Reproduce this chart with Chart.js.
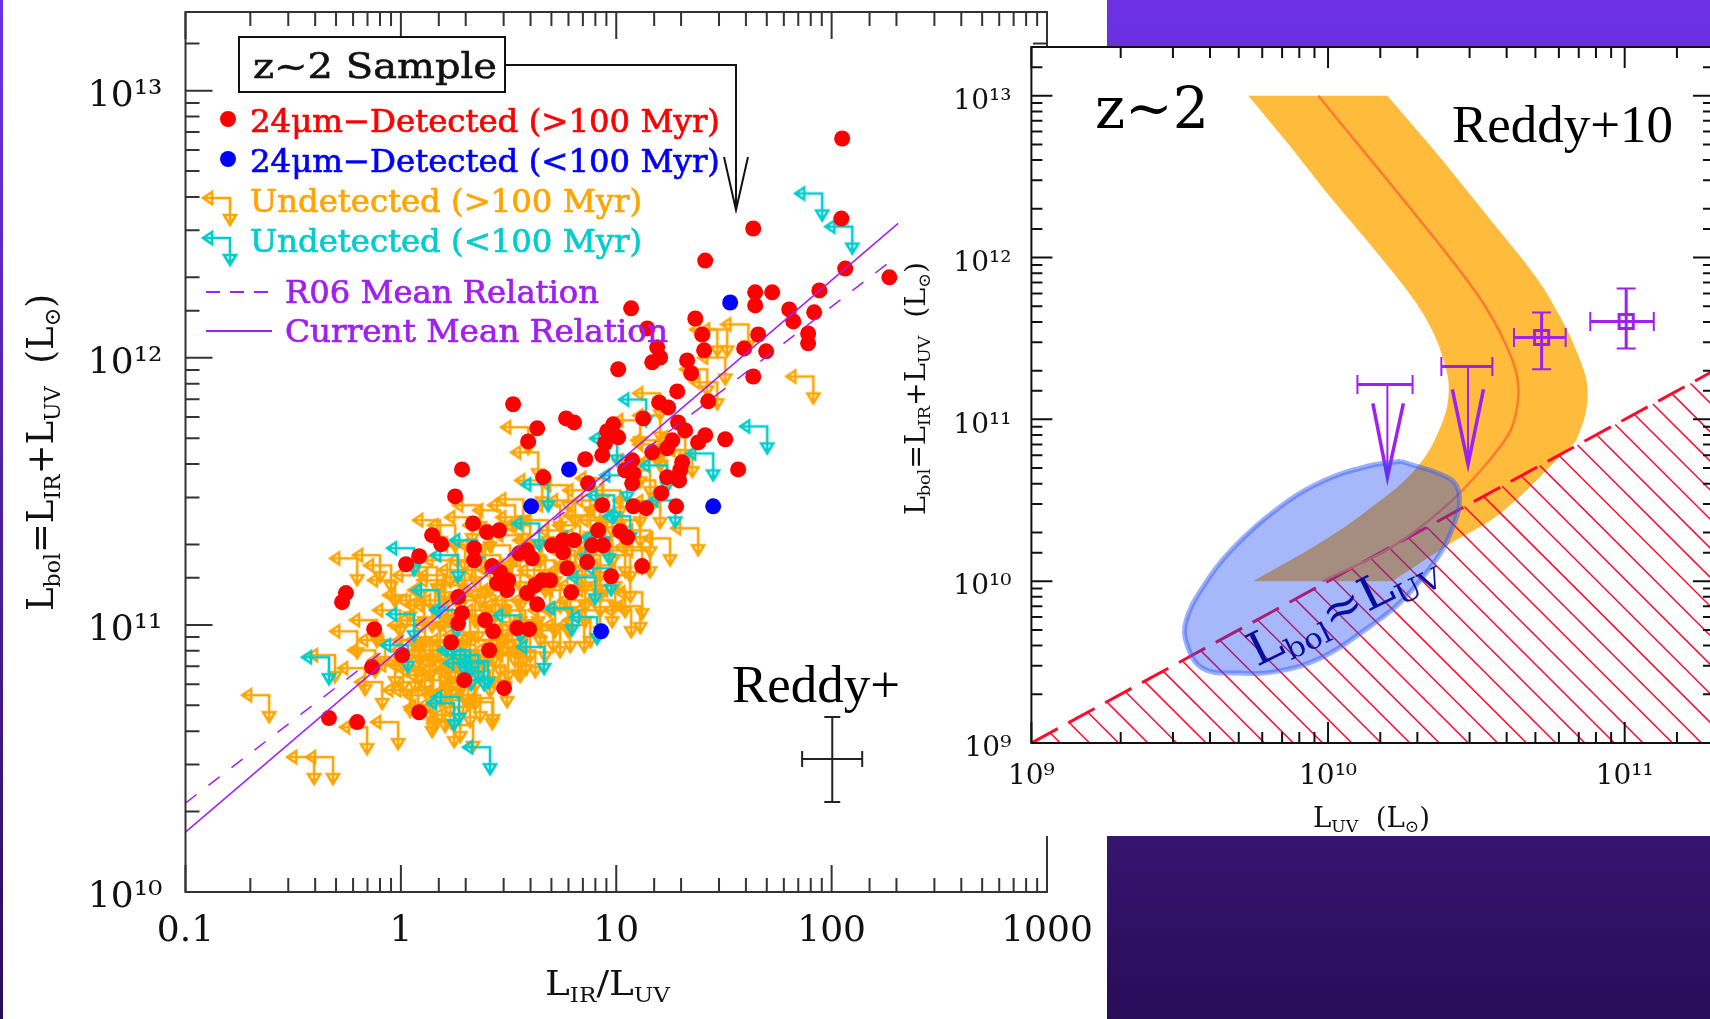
<!DOCTYPE html>
<html>
<head>
<meta charset="utf-8">
<title>z~2 sample</title>
<script src="https://cdn.jsdelivr.net/npm/chart.js@4"></script>
<style>
  html, body { margin: 0; width: 1710px; height: 1019px; overflow: hidden; }
  body { position: relative; background: linear-gradient(#6d31e3 0, #6a30e0 46px, #36156f 836px, #280d5a 1019px); }
  #sheet { position: absolute; left: 3px; top: 0; width: 1104px; height: 1019px; background: #fff; }
  canvas { position: absolute; }
  #leftChart { left: 0; top: 0; }
  #rightChart { left: 900px; top: 46px; background: #fff; }
</style>
</head>
<body>
<div id="sheet"></div>
<canvas id="leftChart" width="1107" height="1019"></canvas>
<canvas id="rightChart" width="830" height="790"></canvas>
<script>
// All values below are log10 of the plotted quantity.

// Left panel: LIR/LUV against Lbol.
const redX = [2.049,2.045,1.636,1.413,2.063,2.268,1.645,1.645,1.724,1.943,1.803,1.919,1.822,1.367,1.399,1.659,1.891,1.891,1.408,1.594,1.696,1.329,1.069,1.144,1.190,1.204,1.167,1.009,1.348,1.636,1.283,1.199,1.241,1.427,1.125,0.804,1.287,1.320,0.986,0.958,1.009,0.948,0.935,1.413,1.380,1.506,1.260,1.236,1.167,0.856,1.306,1.566,1.074,1.041,1.079,1.074,1.236,1.292,1.297,0.869,1.209,0.935,1.079,1.139,1.278,0.916,1.018,1.051,0.804,0.888,0.939,0.521,0.767,0.633,0.591,0.284,0.252,0.661,0.335,0.400,0.456,0.145,0.187,0.340,0.340,0.424,0.461,0.498,0.447,0.493,0.549,0.586,0.609,0.702,0.753,0.753,0.865,0.772,1.120,0.976,0.656,0.693,0.623,0.586,0.791,0.633,0.266,0.284,0.266,0.391,0.428,0.540,0.595,0.233,0.085,0.024,-0.255,-0.273,-0.124,0.410,0.006,-0.134,0.294,0.479,0.085,-0.334,-0.203];
const redY = [12.821,12.521,12.484,12.364,12.334,12.301,12.245,12.196,12.245,12.252,12.181,12.170,12.136,12.147,12.087,12.087,12.091,12.054,12.028,12.035,12.024,11.990,12.185,12.110,12.039,12.001,11.983,11.957,11.942,11.930,11.874,11.833,11.814,11.837,11.773,11.758,11.758,11.728,11.751,11.725,11.702,11.680,11.635,11.710,11.683,11.695,11.691,11.661,11.646,11.620,11.609,11.582,11.616,11.579,11.567,11.530,11.553,11.541,11.579,11.530,11.493,11.448,11.444,11.437,11.444,11.354,11.351,11.328,11.317,11.298,11.298,11.826,11.773,11.736,11.687,11.582,11.481,11.553,11.380,11.347,11.354,11.336,11.302,11.287,11.242,11.220,11.197,11.167,11.156,11.130,11.268,11.279,11.249,11.298,11.317,11.272,11.235,11.212,11.220,11.182,11.167,11.167,11.148,11.119,11.122,11.077,11.104,11.044,11.006,11.018,10.976,10.988,10.984,10.935,11.257,11.227,11.119,11.085,10.984,10.905,10.887,10.842,10.793,10.763,10.673,10.651,10.636];

const blueX = [1.529,1.450,0.781,0.605,0.930];
const blueY = [12.207,11.444,11.582,11.444,10.976];

const cyanX = [1.956,2.096,1.139,1.701,1.450,1.004,1.236,1.274,1.065,1.051,0.684,0.642,0.990,0.266,0.354,0.902,0.795,0.911,0.554,0.261,0.061,0.177,0.061,-0.334,0.414,0.247,0.665,0.033,0.298,0.405,0.386,0.270,0.976,0.967,0.856,0.321,0.359,0.326];
const cyanY = [12.615,12.491,11.844,11.743,11.642,11.698,11.597,11.466,11.407,11.560,11.526,11.380,11.485,11.261,11.317,11.178,11.062,11.029,11.036,11.055,11.287,11.130,11.040,10.879,10.542,10.707,10.917,10.924,10.905,10.864,10.857,10.730,11.212,11.328,11.328,10.905,10.887,10.857];

const orangeX = [1.613,1.515,1.469,1.506,1.422,1.469,1.915,1.204,1.204,1.320,1.353,1.195,1.380,1.204,1.111,1.250,0.368,0.331,0.568,0.568,0.591,0.637,0.656,0.777,1.120,1.120,1.111,1.069,0.851,0.739,0.544,0.581,0.493,0.428,0.345,0.312,0.145,0.247,-0.203,-0.097,-0.046,-0.111,-0.203,-0.306,-0.166,-0.087,-0.013,-0.157,-0.315,-0.403,-0.612,0.335,0.150,0.424,0.108,0.168,0.201,
  0.939,0.879,0.925,0.981,1.041,0.879,0.809,0.739,0.684,0.763,0.832,0.981,1.041,1.111,1.157,0.925,0.995,1.065,0.856,0.786,0.716,0.647,0.600,0.554,0.507,0.461,0.391,0.414,0.461,0.530,0.229,0.298,0.368,0.438,0.507,0.577,0.647,0.716,0.786,0.856,0.925,0.981,1.041,0.693,0.600,0.554,0.484,0.414,0.345,0.275,0.205,0.159,0.112,0.182,0.252,0.321,0.391,0.461,0.530,0.600,0.670,0.879,0.089,0.136,0.205,0.275,0.345,0.414,0.182,0.112,0.043,0.136,0.229,0.321,0.368,0.066,-0.004,0.066,-0.004,-0.073,-0.027,-0.120,0.182,0.043,-0.027,0.089,0.298,0.252,0.182,0.809,0.739,0.670,0.554,0.461,0.624,0.484,0.554,0.252,0.321,0.391,0.182,1.111,1.157,1.236,1.018,1.297,1.111,1.204,1.181,
  0.145,0.219,0.289,0.359,0.428,0.498,0.568,0.637,0.707,0.777,0.150,0.219,0.289,0.359,0.428,0.498,0.219,0.150,0.289,0.080,0.010,0.080,0.206,0.275,0.554,0.484,0.619,0.554,0.414,0.345,0.949,0.879,0.809,0.739,0.670,0.925,0.856,0.786,0.995,1.065,1.157,0.925];
const orangeY = [12.125,12.106,12.106,12.001,11.957,11.908,11.930,11.867,11.676,11.702,11.654,11.691,11.362,11.463,11.466,11.324,11.448,11.403,11.470,11.403,11.740,11.646,11.541,11.523,11.291,11.122,11.070,11.055,10.999,10.980,10.894,10.913,10.793,10.726,10.782,10.782,10.681,10.643,11.249,11.261,11.223,11.018,10.976,10.887,10.838,10.786,10.636,10.617,10.505,10.505,10.737,10.625,10.696,10.711,11.092,11.216,11.167,
  11.549,11.504,11.466,11.429,11.384,11.410,11.466,11.448,11.392,11.354,11.373,11.317,11.279,11.392,11.354,11.261,11.223,11.186,11.223,11.298,11.242,11.317,11.373,11.336,11.298,11.261,11.298,11.373,11.429,11.448,11.242,11.205,11.167,11.111,11.074,11.055,11.018,11.055,10.999,11.092,11.130,11.092,11.130,11.130,11.186,11.148,11.205,11.055,11.092,11.148,11.186,11.130,11.018,10.999,10.943,10.961,10.943,10.905,10.943,10.961,10.961,11.018,10.943,10.887,10.868,10.830,10.849,10.830,10.793,10.830,10.756,10.737,10.756,10.718,10.737,10.849,10.943,10.999,11.055,10.943,10.868,10.905,10.924,11.111,11.167,11.186,11.298,11.373,11.392,11.205,11.148,11.205,10.980,11.018,10.905,10.849,10.887,10.887,11.036,11.130,11.074,11.616,11.579,11.616,11.504,11.654,11.766,11.784,11.541,
  11.074,11.092,10.999,11.036,10.943,10.999,10.943,11.092,10.999,11.055,10.943,10.905,10.887,10.905,10.868,10.887,10.830,10.812,10.756,10.905,10.849,10.756,10.700,10.662,11.092,11.130,11.242,11.223,11.205,11.242,11.392,11.336,11.279,11.298,11.261,11.186,11.148,11.130,11.148,11.261,11.279,11.055];

const currentRelX = [-1, 2.309];
const currentRelY = [10.224, 12.503];
const r06RelX = [-1, 2.309];
const r06RelY = [10.333, 12.383];

// Typical error bar in the corner of the left panel.
const errCrossX = [1.863, 2.142];
const errCrossXAtY = [10.498, 10.498];
const errCrossY = [10.337, 10.655];
const errCrossYAtX = [2.003, 2.003];

const leftTickValues = [0.1, 1, 10, 100, 1000];
const leftTickLabels = ['0.1', '1', '10', '100', '1000'];
const leftLbolValues = [1e10, 1e11, 1e12, 1e13];
const leftLbolLabels = ['10¹⁰', '10¹¹', '10¹²', '10¹³'];

// Right panel: LUV against Lbol.
const bandX = [9.731,9.731,9.860,9.982,10.085,10.178,10.291,10.345,10.382,10.407,10.374,10.291,10.133,9.982,9.748,9.748,10.217,10.217,10.404,10.585,10.796,10.841,10.875,10.841,10.757,10.680,10.585,10.470,10.359,10.2,10.2,9.731];
const bandY = [13,13,12.715,12.432,12.205,12.0,11.735,11.570,11.407,11.179,10.932,10.685,10.438,10.247,10,10,10,10,10.222,10.426,10.796,10.889,11.160,11.407,11.716,11.930,12.148,12.410,12.660,13,13,13];

const meanX = [9.967,10.365,10.524,10.622,10.642,10.615,10.524,10.389,10.209,9.982];
const meanY = [13,12.105,11.716,11.364,11.160,10.932,10.704,10.451,10.204,10];

const ellipseX = [10.246,10.413,10.443,10.426,10.374,10.254,10.133,9.982,9.832,9.697,9.576,9.522,9.522,9.576,9.680,9.832,9.982,10.133,10.246];
const ellipseY = [10.741,10.630,10.519,10.358,10.160,9.889,9.710,9.531,9.444,9.432,9.463,9.623,9.759,9.957,10.204,10.451,10.617,10.710,10.741];

const equalLineX = [9, 11.301];
const equalLineY = [9, 11.301];
const hatchTop = [9.063,9.127,9.190,9.254,9.317,9.381,9.444,9.508,9.571,9.635,9.698,9.762,9.825,9.889,9.952,10.016,10.079,10.143,10.206,10.270,10.333,10.397,10.460,10.524,10.587,10.651,10.714,10.778,10.841,10.905,10.968,11.032,11.095,11.159,11.222,11.286];
const hatchEnd = [9.097,9.196,9.294,9.393,9.490,9.589,9.687,9.786,9.883,9.982,10.080,10.179,10.276,10.375,10.473,10.572,10.669,10.768,10.866,10.965,11.062,11.161,11.259,11.358,11.455,11.554,11.652,11.751,11.848,11.947,12.045,12.144,12.241,12.340,12.437,12.536];

const detectX = [10.720, 11.005];
const detectY = [11.506, 11.605];
const detectXlo = [10.627, 10.884];
const detectXhi = [10.801, 11.098];
const detectYlo = [11.309, 11.438];
const detectYhi = [11.660, 11.809];

const limitX = [10.472, 10.200];
const limitY = [11.327, 11.216];
const limitXlo = [10.382, 10.099];
const limitXhi = [10.554, 10.285];
const limitTipY = [10.722, 10.642];
const limitBarbY = [11.185, 11.099];
const limitBarbLo = [10.419, 10.151];
const limitBarbHi = [10.524, 10.254];

const rightXValues = [1e9, 1e10, 1e11];
const rightXLabels = ['10⁹', '10¹⁰', '10¹¹'];
const rightYValues = [1e9, 1e10, 1e11, 1e12, 1e13];
const rightYLabels = ['10⁹', '10¹⁰', '10¹¹', '10¹²', '10¹³'];

const RED = '#ff0000', BLUE = '#0000ff', ORANGE = '#ffa500', CYAN = '#00cdcd', PURPLE = '#a020f0';
const SERIF = '"DejaVu Serif"', TIMES = '"Liberation Serif"';

// Scatter dataset that joins its points, built from log10 arrays.
function joined(xs, ys, extra) {
    return Object.assign({
        showLine: true,
        data: xs.map((x, i) => ({ x: 10 ** x, y: 10 ** ys[i] })),
        pointRadius: 0,
        fill: false,
        borderWidth: 2
    }, extra);
}

// Scatter dataset with one marker per point.
function markers(xs, ys, extra) {
    return Object.assign({
        showLine: false,
        data: xs.map((x, i) => ({ x: 10 ** x, y: 10 ** ys[i] })),
        borderWidth: 0
    }, extra);
}

// Upper-limit glyph: the corner is the point, arrows go left and down.
function limitSymbol(color) {
    const c = document.createElement('canvas');
    c.width = c.height = 64;
    const g = c.getContext('2d');
    g.strokeStyle = color;
    g.lineWidth = 2.6;
    g.beginPath();
    g.moveTo(5, 32); g.lineTo(32, 32); g.lineTo(32, 59);
    g.moveTo(14, 26); g.lineTo(5, 32); g.lineTo(14, 38); g.closePath();
    g.moveTo(26, 49); g.lineTo(32, 59); g.lineTo(38, 49); g.closePath();
    g.stroke();
    return c;
}
const orangeSymbol = limitSymbol(ORANGE);
const cyanSymbol = limitSymbol(CYAN);

// Text stretched to a measured width, with optional subscript runs.
function drawRuns(ctx, runs, x, y, width, size, color, angle, family, heavy) {
    const face = family || SERIF;
    const fontOf = r => (r.sub ? size * 0.62 : size) + 'px ' + face;
    let total = 0;
    runs.forEach(r => { ctx.font = fontOf(r); total += ctx.measureText(r.text).width; });
    ctx.save();
    ctx.translate(x, y);
    ctx.rotate(angle || 0);
    ctx.scale(width / total, 1);
    ctx.fillStyle = color;
    ctx.strokeStyle = color;
    ctx.lineWidth = heavy || 0;
    ctx.textAlign = 'left';
    ctx.textBaseline = 'alphabetic';
    let cur = 0;
    runs.forEach(r => {
        ctx.font = fontOf(r);
        ctx.fillText(r.text, cur, r.sub ? size * 0.2 : 0);
        if (heavy) ctx.strokeText(r.text, cur, r.sub ? size * 0.2 : 0);
        cur += ctx.measureText(r.text).width;
    });
    ctx.restore();
}

// Box round the plot with ticks pointing inwards on all four sides.
// The y labels also sit a little under their tick in the reference.
function axisFrame(color, majorLen, minorLen, yLabelDrop) {
    return {
        id: 'axisFrame',
        beforeDraw(chart) {
            chart.scales.y.getLabelItems(chart.chartArea).forEach(item => {
                item.options.translation[1] += yLabelDrop;
            });
        },
        afterDatasetsDraw(chart) {
            const { ctx, chartArea: a, scales } = chart;
            ctx.save();
            ctx.strokeStyle = color;
            ctx.lineWidth = 2;
            ctx.strokeRect(a.left, a.top, a.right - a.left, a.bottom - a.top);
            ctx.beginPath();
            scales.x.ticks.forEach(t => {
                const p = scales.x.getPixelForValue(t.value);
                const len = t.major ? majorLen : minorLen;
                ctx.moveTo(p, a.bottom); ctx.lineTo(p, a.bottom - len);
                ctx.moveTo(p, a.top); ctx.lineTo(p, a.top + len);
            });
            scales.y.ticks.forEach(t => {
                const p = scales.y.getPixelForValue(t.value);
                const len = t.major ? majorLen : minorLen;
                ctx.moveTo(a.left, p); ctx.lineTo(a.left + len, p);
                ctx.moveTo(a.right, p); ctx.lineTo(a.right - len, p);
            });
            ctx.stroke();
            ctx.restore();
        }
    };
}

// Fixed margins, so that the plot area does not depend on the tick labels.
function fixedY(width) {
    return { afterFit: s => { s.width = width; s.paddingTop = 0; s.paddingBottom = 0; s.paddingLeft = 0; s.paddingRight = 0; } };
}
function fixedX(height) {
    return { afterFit: s => { s.height = height; s.paddingTop = 0; s.paddingBottom = 0; s.paddingLeft = 0; s.paddingRight = 0; } };
}

function logAxis(min, max, values, labels, size, padding, fixed) {
    return Object.assign({
        type: 'logarithmic',
        min: min,
        max: max,
        grid: { display: false },
        border: { display: false },
        ticks: {
            autoSkip: false,
            maxRotation: 0,
            minRotation: 0,
            padding: padding,
            color: '#111',
            font: { family: 'DejaVu Serif', size: size },
            callback: v => {
                const i = values.indexOf(v);
                return i < 0 ? '' : labels[i];
            }
        }
    }, fixed);
}

// Legend and labels of the left panel.
const leftText = {
    id: 'leftText',
    afterDraw(chart) {
        const ctx = chart.ctx;
        ctx.save();
        ctx.fillStyle = '#fff';
        ctx.strokeStyle = '#111';
        ctx.lineWidth = 2;
        ctx.fillRect(239, 37, 266, 55);
        ctx.strokeRect(239, 37, 266, 55);
        ctx.beginPath();
        ctx.moveTo(505, 65); ctx.lineTo(736, 65); ctx.lineTo(736, 210);
        ctx.moveTo(724, 157); ctx.lineTo(736, 210); ctx.lineTo(748, 157);
        ctx.stroke();
        ctx.fillStyle = RED;
        ctx.beginPath(); ctx.arc(228, 119, 8, 0, 7); ctx.fill();
        ctx.fillStyle = BLUE;
        ctx.beginPath(); ctx.arc(228, 159, 8, 0, 7); ctx.fill();
        ctx.drawImage(orangeSymbol, 198, 166);
        ctx.drawImage(cyanSymbol, 198, 206);
        ctx.strokeStyle = PURPLE;
        ctx.setLineDash([14, 10]);
        ctx.beginPath(); ctx.moveTo(206, 292); ctx.lineTo(272, 292); ctx.stroke();
        ctx.setLineDash([]);
        ctx.beginPath(); ctx.moveTo(206, 331); ctx.lineTo(272, 331); ctx.stroke();
        ctx.restore();

        drawRuns(ctx, [{ text: 'z~2 Sample' }], 253, 78, 244, 36, '#111', 0, SERIF, 0.6);
        drawRuns(ctx, [{ text: '24μm−Detected (>100 Myr)' }], 250, 132, 470, 32, RED, 0, SERIF, 0.7);
        drawRuns(ctx, [{ text: '24μm−Detected (<100 Myr)' }], 250, 172, 470, 32, BLUE, 0, SERIF, 0.7);
        drawRuns(ctx, [{ text: 'Undetected (>100 Myr)' }], 250, 212, 392, 32, ORANGE, 0, SERIF, 0.7);
        drawRuns(ctx, [{ text: 'Undetected (<100 Myr)' }], 250, 252, 392, 32, CYAN, 0, SERIF, 0.7);
        drawRuns(ctx, [{ text: 'R06 Mean Relation' }], 285, 303, 314, 32, PURPLE, 0, SERIF, 0.7);
        drawRuns(ctx, [{ text: 'Current Mean Relation' }], 285, 342, 383, 32, PURPLE, 0, SERIF, 0.7);

        drawRuns(ctx, [{ text: 'Reddy+' }], 732, 702, 168, 53, '#000', 0, TIMES);
        drawRuns(ctx, [{ text: 'L' }, { text: 'IR', sub: true }, { text: '/L' }, { text: 'UV', sub: true }], 545, 995, 125, 34, '#111');
        drawRuns(ctx, [{ text: 'L' }, { text: 'bol', sub: true }, { text: '=L' }, { text: 'IR', sub: true }, { text: '+L' }, { text: 'UV', sub: true }, { text: '  (L' }, { text: '⊙', sub: true }, { text: ')' }],
            53, 611, 317, 37, '#111', -Math.PI / 2);
    }
};

// Labels of the right panel.
const rightText = {
    id: 'rightText',
    afterDraw(chart) {
        const ctx = chart.ctx;
        drawRuns(ctx, [{ text: 'z~2' }], 195, 82, 114, 58, '#000');
        drawRuns(ctx, [{ text: 'Reddy+10' }], 552, 96, 221, 53, '#000', 0, TIMES);
        drawRuns(ctx, [{ text: 'L' }, { text: 'bol', sub: true }, { text: '≈L' }, { text: 'UV', sub: true }], 357, 621, 205, 46, '#0a0ea0', -0.46);
        drawRuns(ctx, [{ text: 'L' }, { text: 'UV', sub: true }, { text: '  (L' }, { text: '⊙', sub: true }, { text: ')' }], 413, 781, 117, 27, '#111');
        drawRuns(ctx, [{ text: 'L' }, { text: 'bol', sub: true }, { text: '=L' }, { text: 'IR', sub: true }, { text: '+L' }, { text: 'UV', sub: true }, { text: '  (L' }, { text: '⊙', sub: true }, { text: ')' }],
            25, 469, 253, 27, '#111', -Math.PI / 2);
    }
};

const baseOptions = {
    responsive: false,
    animation: false,
    devicePixelRatio: 1,
    plugins: { legend: { display: false }, tooltip: { enabled: false } }
};

document.addEventListener('DOMContentLoaded', () => {
    new Chart(document.getElementById('leftChart').getContext('2d'), {
        type: 'scatter',
        data: {
            datasets: [
                joined(currentRelX, currentRelY, { borderColor: PURPLE, borderWidth: 1.5 }),
                joined(r06RelX, r06RelY, { borderColor: PURPLE, borderWidth: 1.5, borderDash: [14, 15] }),
                joined(errCrossX, errCrossXAtY, { borderColor: '#222', pointStyle: 'line', pointRotation: 90, pointRadius: 8, pointBorderWidth: 2, pointBorderColor: '#222' }),
                joined(errCrossYAtX, errCrossY, { borderColor: '#222', pointStyle: 'line', pointRadius: 8, pointBorderWidth: 2, pointBorderColor: '#222' }),
                markers(redX, redY, { pointRadius: 8, backgroundColor: RED }),
                markers(blueX, blueY, { pointRadius: 8, backgroundColor: BLUE }),
                markers(cyanX, cyanY, { pointStyle: cyanSymbol, pointRadius: 1 }),
                markers(orangeX, orangeY, { pointStyle: orangeSymbol, pointRadius: 1 })
            ]
        },
        options: Object.assign({}, baseOptions, {
            layout: { autoPadding: false, padding: { left: 0, top: 12, right: 60, bottom: 0 } },
            scales: {
                x: logAxis(0.1, 1000, leftTickValues, leftTickLabels, 36, 10, fixedX(127)),
                y: logAxis(1e10, 1.97e13, leftLbolValues, leftLbolLabels, 36, 15, fixedY(185.5))
            }
        }),
        plugins: [axisFrame('#333', 27, 14, 6), leftText]
    });

    const purple = { borderColor: PURPLE, pointBorderColor: PURPLE, pointBorderWidth: 2, borderWidth: 3 };
    const rightSets = [
        joined(ellipseX, ellipseY, { fill: 'shape', backgroundColor: 'rgba(22,69,240,0.38)', borderColor: 'rgba(60,95,245,0.5)', borderWidth: 5, tension: 0.4 }),
        joined(detectXlo.slice(0, 1).concat(detectXhi[0]), [detectY[0], detectY[0]], Object.assign({ pointStyle: 'line', pointRotation: 90, pointRadius: 9.5 }, purple)),
        joined([detectX[0], detectX[0]], [detectYlo[0], detectYhi[0]], Object.assign({ pointStyle: 'line', pointRadius: 9.5 }, purple)),
        joined(detectXlo.slice(1).concat(detectXhi[1]), [detectY[1], detectY[1]], Object.assign({ pointStyle: 'line', pointRotation: 90, pointRadius: 9.5 }, purple)),
        joined([detectX[1], detectX[1]], [detectYlo[1], detectYhi[1]], Object.assign({ pointStyle: 'line', pointRadius: 9.5 }, purple)),
        markers(detectX, detectY, { pointStyle: 'rect', pointRadius: 10, borderWidth: 3, pointBorderColor: PURPLE, pointBorderWidth: 3, backgroundColor: 'transparent' })
    ];
    limitX.forEach((x, i) => {
        rightSets.push(joined([limitXlo[i], limitXhi[i]], [limitY[i], limitY[i]], Object.assign({ pointStyle: 'line', pointRotation: 90, pointRadius: 9.5 }, purple)));
        rightSets.push(joined([x, x], [limitY[i], limitTipY[i]], { borderColor: PURPLE, borderWidth: 2 }));
        rightSets.push(joined([limitBarbLo[i], x, limitBarbHi[i]], [limitBarbY[i], limitTipY[i], limitBarbY[i]], { borderColor: PURPLE, borderWidth: 3.5 }));
    });
    rightSets.push(joined(meanX, meanY, { borderColor: '#ff7a2f', borderWidth: 2.5, tension: 0.3 }));
    rightSets.push(joined(equalLineX, equalLineY, { borderColor: '#ff0a2d', borderWidth: 3, borderDash: [30, 12] }));
    hatchTop.forEach((t, i) => {
        rightSets.push(joined([t, hatchEnd[i]], [t, 9], { borderColor: '#ff0a2d', borderWidth: 1.5 }));
    });
    rightSets.push(joined(bandX, bandY, { fill: 'shape', backgroundColor: '#febb3c', borderWidth: 0, tension: 0.4 }));

    new Chart(document.getElementById('rightChart').getContext('2d'), {
        type: 'scatter',
        data: { datasets: rightSets },
        options: Object.assign({}, baseOptions, {
            layout: { autoPadding: false, padding: { left: 0, top: 1, right: 16, bottom: 0 } },
            scales: {
                x: logAxis(1e9, 2e11, rightXValues, rightXLabels, 28, 9, fixedX(93)),
                y: logAxis(1e9, 2e13, rightYValues, rightYLabels, 28, 12, fixedY(131.4))
            }
        }),
        plugins: [axisFrame('#111', 21, 11, 6), rightText]
    });
});
</script>
</body>
</html>
